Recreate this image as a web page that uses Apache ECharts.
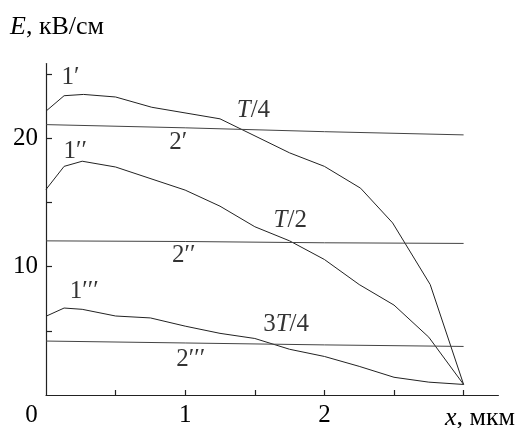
<!DOCTYPE html>
<html>
<head>
<meta charset="utf-8">
<script src="https://cdn.jsdelivr.net/npm/echarts@6/dist/echarts.min.js"></script>
<style>
  html, body { margin: 0; padding: 0; background: #fff; }
  #chart { width: 517px; height: 428px; }
</style>
</head>
<body>
<div id="chart"></div>
<script>
// Field strength E (kV/cm) along x (µm) at three moments of the period
const curveT4X = [0, 0.13, 0.27, 0.5, 0.76, 1.25, 1.75, 2.0, 2.26, 2.49, 2.76, 3.0];
const curveT4Y = [22.1, 23.3, 23.4, 23.2, 22.4, 21.5, 18.85, 17.8, 16.1, 13.4, 8.6, 0.82];

const curveT2X = [0, 0.13, 0.26, 0.5, 1.0, 1.25, 1.5, 1.75, 2.0, 2.25, 2.5, 2.75, 3.0];
const curveT2Y = [16.0, 17.8, 18.2, 17.75, 15.95, 14.7, 13.1, 12.0, 10.55, 8.6, 7.0, 4.5, 0.82];

const curve3T4X = [0, 0.13, 0.26, 0.5, 0.75, 1.0, 1.25, 1.5, 1.75, 2.0, 2.25, 2.5, 2.75, 3.0];
const curve3T4Y = [6.13, 6.77, 6.67, 6.15, 6.0, 5.36, 4.8, 4.4, 3.56, 3.0, 2.23, 1.38, 1.0, 0.82];

// Nearly flat reference lines 2′, 2″, 2‴
const flatX = [0, 1, 2, 3];
const flatT4Y = [21.05, 20.8, 20.5, 20.25];
const flatT2Y = [12.0, 11.95, 11.85, 11.8];
const flat3T4Y = [4.2, 4.05, 3.9, 3.78];

// Curve captions and the (x, E) points they sit at
const captionText = ['1′', '2′', 'T/4', '1′′', '2′′', 'T/2', '1′′′', '2′′′', '3T/4'];
const captionX = [0.175, 0.95, 1.49, 0.21, 0.99, 1.755, 0.275, 1.04, 1.725];
const captionY = [24.7, 19.7, 22.15, 19.0, 10.9, 13.6, 8.1, 2.8, 5.5];

// Axis ticks and labels
const xTicks = [0.5, 1, 1.5, 2, 2.5, 3];
const xLabels = [0, 1, 2];
const yTicks = [5, 10, 15, 20, 25];
const yLabels = [10, 20];

const FONT = '"Liberation Serif", "Times New Roman", serif';
const INK = '#000';
const zip = (xs, ys) => xs.map((x, i) => [x, ys[i]]);

function lineSeries(xs, ys, color) {
  return {
    type: 'line',
    data: zip(xs, ys),
    symbol: 'none',
    lineStyle: { color: color, width: 1 },
    silent: true,
    animation: false
  };
}

function captionFormatter(t) {
  // italic period symbol T, the rest upright
  const m = t.match(/^(\d*)T(\/\d)$/);
  if (m) return (m[1] ? '{n|' + m[1] + '}' : '') + '{i|T}{n|' + m[2] + '}';
  return '{n|' + t + '}';
}

const chart = echarts.init(document.getElementById('chart'), null, { renderer: 'canvas' });

chart.setOption({
  animation: false,
  backgroundColor: '#fff',
  grid: { left: 46, top: 63.6, width: 452.4, height: 335.4 },
  xAxis: {
    type: 'value', min: 0, max: 3.25,
    axisLine: { show: true, lineStyle: { color: '#222', width: 1.2 } },
    splitLine: { show: false },
    axisTick: { show: true, inside: true, length: 5, customValues: xTicks, lineStyle: { color: '#222', width: 1.2 } },
    axisLabel: {
      customValues: xLabels, margin: 8,
      fontFamily: FONT, fontSize: 25, color: INK,
      formatter: v => v === 0 ? '{z|0}' : String(v),
      rich: { z: { fontFamily: FONT, fontSize: 25, color: INK, padding: [0, 29, 0, 0] } }
    }
  },
  yAxis: {
    type: 'value', min: 0, max: 25.8,
    axisLine: { show: true, lineStyle: { color: '#222', width: 1.2 } },
    splitLine: { show: false },
    axisTick: { show: true, inside: true, length: 6, customValues: yTicks, lineStyle: { color: '#222', width: 1.2 } },
    axisLabel: {
      customValues: yLabels, margin: 8,
      fontFamily: FONT, fontSize: 25, color: INK
    }
  },
  series: [
    lineSeries(curveT4X, curveT4Y, '#222'),
    lineSeries(curveT2X, curveT2Y, '#222'),
    lineSeries(curve3T4X, curve3T4Y, '#222'),
    lineSeries(flatX, flatT4Y, '#444'),
    lineSeries(flatX, flatT2Y, '#444'),
    lineSeries(flatX, flat3T4Y, '#444'),
    {
      type: 'scatter',
      symbolSize: 0,
      silent: true,
      data: captionText.map((t, i) => ({ value: [captionX[i], captionY[i]], name: t })),
      label: {
        show: true, position: 'inside',
        formatter: p => captionFormatter(p.name),
        rich: {
          n: { fontFamily: FONT, fontSize: 25, color: INK },
          i: { fontFamily: FONT, fontSize: 25, color: INK, fontStyle: 'italic' }
        }
      }
    }
  ],
  graphic: [
    {
      type: 'text', left: 10, top: 14,
      style: {
        text: '{i|E}{n|, кВ/см}',
        rich: {
          i: { fontFamily: FONT, fontSize: 26, fontStyle: 'italic', fill: INK },
          n: { fontFamily: FONT, fontSize: 26, fill: INK }
        }
      }
    },
    {
      type: 'text', right: 2, top: 405,
      style: {
        text: '{i|x}{n|, мкм}',
        rich: {
          i: { fontFamily: FONT, fontSize: 26, fontStyle: 'italic', fill: INK },
          n: { fontFamily: FONT, fontSize: 26, fill: INK }
        }
      }
    }
  ]
});
</script>
</body>
</html>
